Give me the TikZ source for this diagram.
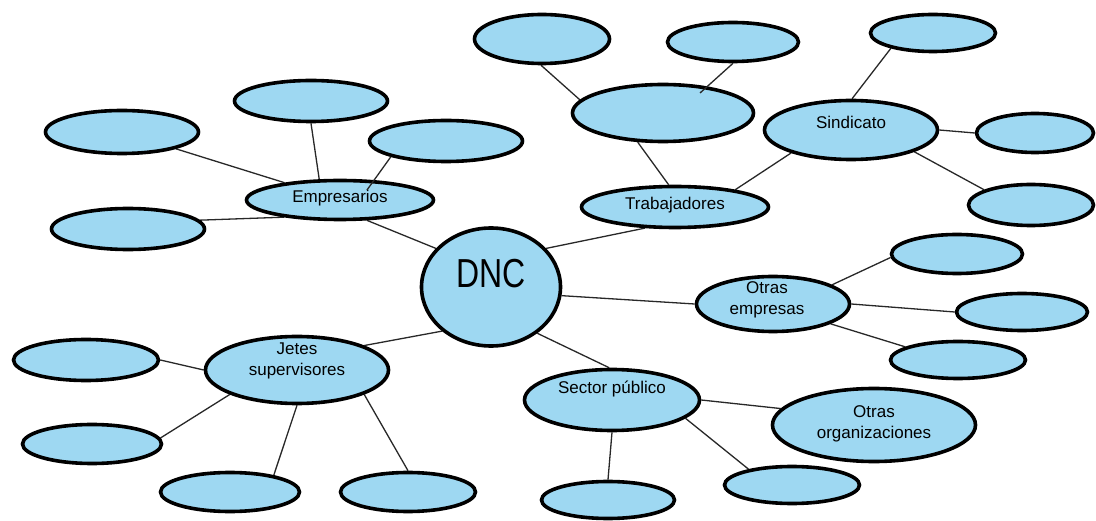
\documentclass[tikz,border=0pt]{standalone}
\usepackage{fontspec}
\setmainfont{Liberation Sans}
\newfontfamily\dncfont[FakeStretch=0.79]{Liberation Sans}
\usetikzlibrary{shapes.geometric,backgrounds}
\definecolor{bubble}{RGB}{158,216,242}
\definecolor{wire}{RGB}{40,40,40}
\tikzset{
  bub/.style 2 args={ellipse, draw=black, line width=3.6pt, fill=bubble,
    minimum width=#1pt, minimum height=#2pt, inner sep=0pt},
  txt/.style={font=\fontsize{17}{21}\selectfont, align=center, text=black},
  wirel/.style={draw=wire, line width=1.3pt},
}
\begin{document}
\begin{tikzpicture}[x=1pt,y=-1pt]
\useasboundingbox (0,0) rectangle (1096,521);
% centre
\node[bub={139}{118}, label={[font=\dncfont\fontsize{40.5}{40.5}\selectfont, text=black, yshift=13.5pt]center:DNC}] (DNC) at (491,287) {};
% Empresarios group
\node[bub={187}{39}, label={[txt, yshift=2pt]center:Empresarios}] (E) at (340,200) {};
\node[bub={153}{43}] (e1) at (122,132) {};
\node[bub={153}{41}] (e2) at (311,101) {};
\node[bub={153}{41}] (e3) at (446,141) {};
\node[bub={153}{41}] (e4) at (128,229) {};
% Trabajadores group
\node[bub={187}{41}, label={[txt, yshift=2pt]center:Trabajadores}] (T) at (675,207) {};
\node[bub={181}{57}] (t1) at (663,113) {};
\node[bub={135}{49}] (t2) at (542,39) {};
\node[bub={131}{39}] (t3) at (733,42) {};
% Sindicato group
\node[bub={173}{59}, label={[txt, yshift=8pt]center:Sindicato}] (S) at (851,130) {};
\node[bub={125}{37}] (s1) at (933,33) {};
\node[bub={117}{39}] (s2) at (1035,133) {};
\node[bub={125}{41}] (s3) at (1031,205) {};
% Otras empresas group
\node[bub={153}{55}, label={[txt, yshift=4pt, xshift=-6pt]center:Otras\\empresas}] (O) at (773,304) {};
\node[bub={131}{39}] (o1) at (957,254) {};
\node[bub={131}{37}] (o2) at (1022,312) {};
\node[bub={135}{37}] (o3) at (958,360) {};
% Jefes group
\node[bub={183}{67}, label={[txt, yshift=9pt]center:Jetes\\supervisores}] (J) at (297,370) {};
\node[bub={145}{41}] (j1) at (86,360) {};
\node[bub={139}{39}] (j2) at (92,444) {};
\node[bub={139}{39}] (j3) at (230,492) {};
\node[bub={135}{39}] (j4) at (408,492) {};
% Sector publico group
\node[bub={175}{61}, label={[txt, yshift=11pt]center:Sector público}] (P) at (612,400) {};
\node[bub={133}{37}] (p1) at (608,500) {};
\node[bub={135}{37}] (p2) at (792,485) {};
\node[bub={203}{73}, label={[txt, yshift=1pt]center:Otras\\organizaciones}] (OO) at (874,425) {};
% free ends inside bubbles
\coordinate (Ein) at (367,190);
\coordinate (t1in) at (700,93);
\begin{scope}[on background layer]
  \fill[white] (0,0) rectangle (1096,521);
  \draw[wirel] (e1) -- (E);
  \draw[wirel] (e2.south) -- (E.135);
  \draw[wirel] (e4.7) -- (E.197);
  \draw[wirel] (E.-37) -- (DNC.145);
  \draw[wirel] (t1.229) -- (T.106);
  \draw[wirel] (t2.268) -- (t1.171);
  \draw[wirel] (T.16) -- (S.201);
  \draw[wirel] (T.215) -- (DNC.35);
  \draw[wirel] (s1.200) -- (S.88);
  \draw[wirel] (S.east) -- (s2.west);
  \draw[wirel] (S.-19) -- (s3.162);
  \draw[wirel] (DNC.-7) -- (O.west);
  \draw[wirel] (O.18) -- (o1.183);
  \draw[wirel] (O.east) -- (o2.west);
  \draw[wirel] (O.-19) -- (o3.166);
  \draw[wirel] (J.20) -- (DNC.222);
  \draw[wirel] (j1.east) -- (J.west);
  \draw[wirel] (j2.5) -- (J.200);
  \draw[wirel] (J.south) -- (j3.21);
  \draw[wirel] (J.-20) -- (j4.north);
  \draw[wirel] (DNC.-45) -- (P.95);
  \draw[wirel] (P.east) -- (OO.170);
  \draw[wirel] (P.south) -- (p1.north);
  \draw[wirel] (P.-14) -- (p2.160);
\end{scope}
\draw[wirel] (e3.196) -- (Ein);
\draw[wirel] (t3.south) -- (t1in);
\end{tikzpicture}
\end{document}
